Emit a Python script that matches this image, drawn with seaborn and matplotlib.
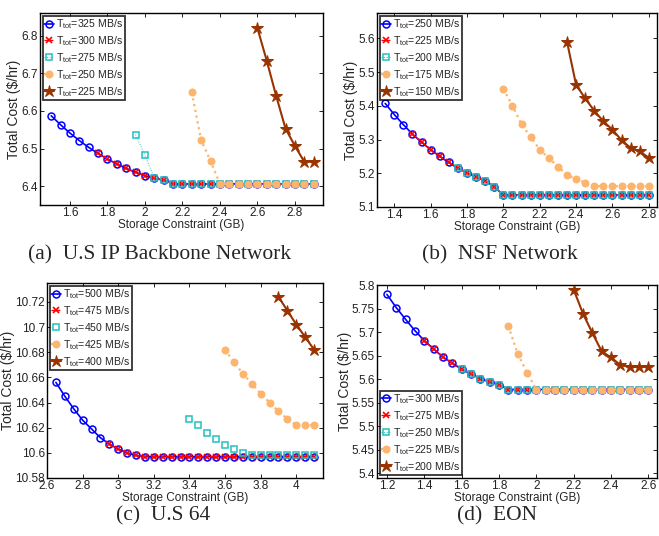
import matplotlib
matplotlib.use("Agg")
import matplotlib.pyplot as plt
import numpy as np
import pandas as pd
import seaborn as sns

# ---- data (x = storage constraint in GB, y = total cost $/hr) ----

# (a) U.S IP Backbone Network
a_x325 = [1.5, 1.55, 1.6, 1.65, 1.7, 1.75, 1.8, 1.85, 1.9, 1.95, 2.0, 2.05, 2.1, 2.15, 2.2, 2.25,
          2.3, 2.35, 2.4, 2.45, 2.5, 2.55, 2.6, 2.65, 2.7, 2.75, 2.8, 2.85, 2.9]
a_y325 = [6.587, 6.563, 6.541, 6.521, 6.503, 6.487, 6.472, 6.459, 6.447, 6.437, 6.428, 6.421, 6.416,
          6.406, 6.406, 6.406, 6.406, 6.406, 6.406, 6.406, 6.406, 6.406, 6.406, 6.406, 6.406, 6.406,
          6.406, 6.406, 6.406]
a_x300 = a_x325[5:]
a_y300 = a_y325[5:]
a_x275 = [1.95, 2.0, 2.05, 2.1, 2.15, 2.2, 2.25, 2.3, 2.35, 2.4, 2.45, 2.5, 2.55, 2.6, 2.65, 2.7,
          2.75, 2.8, 2.85, 2.9]
a_y275 = [6.537, 6.482, 6.421, 6.416, 6.406, 6.406, 6.406, 6.406, 6.406, 6.406, 6.406, 6.406,
          6.406, 6.406, 6.406, 6.406, 6.406, 6.406, 6.406, 6.406]
a_x250 = [2.25, 2.3, 2.35, 2.4, 2.45, 2.5, 2.55, 2.6, 2.65, 2.7, 2.75, 2.8, 2.85, 2.9]
a_y250 = [6.649, 6.522, 6.467, 6.406, 6.406, 6.406, 6.406, 6.406, 6.406, 6.406, 6.406, 6.406,
          6.406, 6.406]
a_x225 = [2.6, 2.65, 2.7, 2.75, 2.8, 2.85, 2.9]
a_y225 = [6.82, 6.733, 6.64, 6.553, 6.507, 6.465, 6.465]
a_rates = ["325", "300", "275", "250", "225"]

# (b) NSF Network
b_x250 = [1.35, 1.4, 1.45, 1.5, 1.55, 1.6, 1.65, 1.7, 1.75, 1.8, 1.85, 1.9, 1.95, 2.0, 2.05, 2.1,
          2.15, 2.2, 2.25, 2.3, 2.35, 2.4, 2.45, 2.5, 2.55, 2.6, 2.65, 2.7, 2.75, 2.8]
b_y250 = [5.407, 5.374, 5.344, 5.316, 5.292, 5.270, 5.250, 5.232, 5.215, 5.201, 5.189, 5.178,
          5.160, 5.135, 5.135, 5.135, 5.135, 5.135, 5.135, 5.135, 5.135, 5.135, 5.135, 5.135,
          5.135, 5.135, 5.135, 5.135, 5.135, 5.135]
b_x225 = b_x250[3:]
b_y225 = b_y250[3:]
b_x200 = b_x250[8:]
b_y200 = b_y250[8:]
b_x175 = [2.0, 2.05, 2.1, 2.15, 2.2, 2.25, 2.3, 2.35, 2.4, 2.45, 2.5, 2.55, 2.6, 2.65, 2.7, 2.75, 2.8]
b_y175 = [5.450, 5.400, 5.345, 5.308, 5.270, 5.245, 5.220, 5.195, 5.183, 5.172, 5.162, 5.162,
          5.162, 5.162, 5.162, 5.162, 5.162]
b_x150 = [2.35, 2.4, 2.45, 2.5, 2.55, 2.6, 2.65, 2.7, 2.75, 2.8]
b_y150 = [5.590, 5.462, 5.422, 5.385, 5.354, 5.329, 5.298, 5.275, 5.265, 5.246]
b_rates = ["250", "225", "200", "175", "150"]

# (c) U.S 64
c_x500 = [2.65, 2.7, 2.75, 2.8, 2.85, 2.9, 2.95, 3.0, 3.05, 3.1, 3.15, 3.2, 3.25, 3.3, 3.35, 3.4,
          3.45, 3.5, 3.55, 3.6, 3.65, 3.7, 3.75, 3.8, 3.85, 3.9, 3.95, 4.0, 4.05, 4.1]
c_y500 = [10.656, 10.645, 10.635, 10.626, 10.619, 10.612, 10.607, 10.603, 10.600, 10.598,
          10.597, 10.597, 10.597, 10.597, 10.597, 10.597, 10.597, 10.597, 10.597, 10.597,
          10.597, 10.597, 10.597, 10.597, 10.597, 10.597, 10.597, 10.597, 10.597, 10.597]
c_x475 = c_x500[6:]
c_y475 = c_y500[6:]
c_x450 = [3.4, 3.45, 3.5, 3.55, 3.6, 3.65, 3.7, 3.75, 3.8, 3.85, 3.9, 3.95, 4.0, 4.05, 4.1]
c_y450 = [10.627, 10.622, 10.616, 10.611, 10.606, 10.603, 10.600, 10.598, 10.598, 10.598,
          10.598, 10.598, 10.598, 10.598, 10.598]
c_x425 = [3.6, 3.65, 3.7, 3.75, 3.8, 3.85, 3.9, 3.95, 4.0, 4.05, 4.1]
c_y425 = [10.682, 10.672, 10.663, 10.655, 10.647, 10.640, 10.633, 10.627, 10.622, 10.622, 10.622]
c_x400 = [3.9, 3.95, 4.0, 4.05, 4.1]
c_y400 = [10.724, 10.713, 10.702, 10.692, 10.682]
c_rates = ["500", "475", "450", "425", "400"]

# (d) EON
d_x300 = [1.2, 1.25, 1.3, 1.35, 1.4, 1.45, 1.5, 1.55, 1.6, 1.65, 1.7, 1.75, 1.8, 1.85, 1.9, 1.95,
          2.0, 2.05, 2.1, 2.15, 2.2, 2.25, 2.3, 2.35, 2.4, 2.45, 2.5, 2.55, 2.6]
d_y300 = [5.780, 5.752, 5.727, 5.703, 5.682, 5.664, 5.647, 5.634, 5.621, 5.611, 5.601, 5.594,
          5.588, 5.578, 5.578, 5.578, 5.578, 5.578, 5.578, 5.578, 5.578, 5.578, 5.578, 5.578,
          5.578, 5.578, 5.578, 5.578, 5.578]
d_x275 = d_x300[4:]
d_y275 = d_y300[4:]
d_x250 = d_x300[8:]
d_y250 = d_y300[8:]
d_x225 = [1.85, 1.9, 1.95, 2.0, 2.05, 2.1, 2.15, 2.2, 2.25, 2.3, 2.35, 2.4, 2.45, 2.5, 2.55, 2.6]
d_y225 = [5.713, 5.654, 5.614, 5.578, 5.578, 5.578, 5.578, 5.578, 5.578, 5.578, 5.578, 5.578,
          5.578, 5.578, 5.578, 5.578]
d_x200 = [2.2, 2.25, 2.3, 2.35, 2.4, 2.45, 2.5, 2.55, 2.6]
d_y200 = [5.790, 5.739, 5.698, 5.659, 5.646, 5.630, 5.626, 5.626, 5.626]
d_rates = ["300", "275", "250", "225", "200"]

captions = ["(a)  U.S IP Backbone Network", "(b)  NSF Network", "(c)  U.S 64", "(d)  EON"]

sns.set_theme(style="white")
plt.rcParams["font.family"] = ["Liberation Sans", "DejaVu Sans"]
plt.rcParams["mathtext.default"] = "regular"

# one style per curve, in drawing order
styles = [
    dict(color="#0000FF", linestyle="-", linewidth=1.2, marker="o", markersize=5,
         markerfacecolor="none", markeredgecolor="#0000FF", markeredgewidth=1.1),
    dict(color="#FF0000", linestyle="-.", linewidth=1.0, marker="x", markersize=4,
         markeredgecolor="#FF0000", markeredgewidth=1.2),
    dict(color="#22C0C0", linestyle=":", linewidth=0.7, marker="s", markersize=5,
         markerfacecolor="none", markeredgecolor="#22C0C0", markeredgewidth=1.1),
    dict(color="#FDB46C", linestyle=":", linewidth=1.6, marker="o", markersize=5,
         markerfacecolor="#FDB46C", markeredgecolor="#FDB46C"),
    dict(color="#993300", linestyle="-", linewidth=1.5, marker="*", markersize=9,
         markerfacecolor="#993300", markeredgecolor="#993300"),
]

panels = [
    dict(series=[(a_x325, a_y325), (a_x300, a_y300), (a_x275, a_y275), (a_x250, a_y250), (a_x225, a_y225)],
         rates=a_rates, rect=[40, 13, 323, 205], xlim=(1.44, 2.95), ylim=(6.35, 6.86),
         xticks=[1.6, 1.8, 2.0, 2.2, 2.4, 2.6, 2.8], yticks=[6.4, 6.5, 6.6, 6.7, 6.8],
         yfmt="{:.1f}", loc="upper left", cap_xy=(160, 255), cyan_line=True),
    dict(series=[(b_x250, b_y250), (b_x225, b_y225), (b_x200, b_y200), (b_x175, b_y175), (b_x150, b_y150)],
         rates=b_rates, rect=[377, 13, 657, 207], xlim=(1.305, 2.845), ylim=(5.1, 5.675),
         xticks=[1.4, 1.6, 1.8, 2.0, 2.2, 2.4, 2.6, 2.8], yticks=[5.1, 5.2, 5.3, 5.4, 5.5, 5.6],
         yfmt="{:.1f}", loc="upper left", cap_xy=(500, 255), cyan_line=True),
    dict(series=[(c_x500, c_y500), (c_x475, c_y475), (c_x450, c_y450), (c_x425, c_y425), (c_x400, c_y400)],
         rates=c_rates, rect=[47, 283, 323, 478], xlim=(2.6, 4.15), ylim=(10.58, 10.735),
         xticks=[2.6, 2.8, 3.0, 3.2, 3.4, 3.6, 3.8, 4.0],
         yticks=[10.58, 10.6, 10.62, 10.64, 10.66, 10.68, 10.7, 10.72],
         yfmt="{:g}", loc="upper left", cap_xy=(163, 516), cyan_line=False),
    dict(series=[(d_x300, d_y300), (d_x275, d_y275), (d_x250, d_y250), (d_x225, d_y225), (d_x200, d_y200)],
         rates=d_rates, rect=[377, 285, 657, 478], xlim=(1.147, 2.646), ylim=(5.39, 5.8),
         xticks=[1.2, 1.4, 1.6, 1.8, 2.0, 2.2, 2.4, 2.6],
         yticks=[5.4, 5.45, 5.5, 5.55, 5.6, 5.65, 5.7, 5.75, 5.8],
         yfmt="{:g}", loc="lower left", cap_xy=(497, 516), cyan_line=True),
]

W, H = 659, 536
fig = plt.figure(figsize=(W / 100, H / 100), dpi=100)

for p, caption in zip(panels, captions):
    l, t, r, b = p["rect"]
    ax = fig.add_axes([l / W, 1 - b / H, (r - l) / W, (b - t) / H])
    for (xs, ys), rate, st in zip(p["series"], p["rates"], styles):
        st = dict(st)
        if st["marker"] == "s" and not p["cyan_line"]:
            st["linestyle"] = "none"
        df = pd.DataFrame({"x": xs, "y": ys})
        sns.lineplot(data=df, x="x", y="y", ax=ax, sort=False, estimator=None,
                     label=r"T$_{tot}$=" + rate + " MB/s", **st)
    ax.set_xlim(*p["xlim"])
    ax.set_ylim(*p["ylim"])
    ax.set_xticks(p["xticks"])
    ax.set_xticklabels(["{:g}".format(v) for v in p["xticks"]])
    ax.set_yticks(p["yticks"])
    ax.set_yticklabels([p["yfmt"].format(v) for v in p["yticks"]])
    ax.tick_params(direction="in", length=3, width=0.7, labelsize=8.5, pad=1.5,
                   top=True, right=True, bottom=True, left=True, colors="#222222")
    for s in ax.spines.values():
        s.set_visible(True)
        s.set_color("black")
        s.set_linewidth(1.0)
    ax.set_xlabel("Storage Constraint (GB)", fontsize=8.5, labelpad=0)
    ax.set_ylabel("Total Cost ($/hr)", fontsize=10, labelpad=0)
    leg = ax.legend(loc=p["loc"], fontsize=7.6, frameon=True, fancybox=False,
                    handlelength=0.9, handletextpad=0.2, labelspacing=0.3,
                    borderpad=0.15, borderaxespad=0.25)
    leg.get_frame().set_edgecolor("black")
    leg.get_frame().set_linewidth(1.3)
    cx, cy = p["cap_xy"]
    fig.text(cx / W, 1 - cy / H, caption, ha="center", va="center",
             fontsize=15.5, family=["Liberation Serif", "DejaVu Serif"])

fig.savefig("out.png", dpi=100)
